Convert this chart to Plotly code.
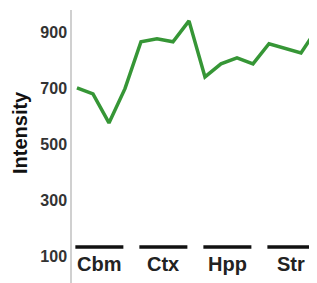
import plotly.graph_objects as go

groups = ["Cbm", "Ctx", "Hpp", "Str"]
samples_per_group = 4
intensity = [703, 681, 577, 700, 868, 879, 868, 943, 742, 789, 810, 789, 861, 846, 828, 914]
y_ticks = [100, 300, 500, 700, 900]

x_idx = list(range(len(intensity)))

# the page body has an 8px default margin, so the figure is sized to fit the window
W, H = 309, 275
ML, MR, MT, MB = 64, 0, 2, 0
PW, PH = W - ML - MR, H - MT - MB

fig = go.Figure()
fig.add_trace(go.Scatter(
    x=x_idx, y=intensity, mode="lines",
    line=dict(color="#369636", width=3.5),
    showlegend=False, hoverinfo="skip",
))

shapes = []
annotations = []
for g, name in enumerate(groups):
    x0 = g * samples_per_group - 0.1
    x1 = g * samples_per_group + samples_per_group - 1.1
    shapes.append(dict(type="line", xref="x", yref="y", x0=x0, x1=x1, y0=132, y1=132,
                       line=dict(color="#111111", width=3.5)))
    annotations.append(dict(x=(x0 + x1) / 2, y=72, xref="x", yref="y", text="<b>" + name + "</b>",
                            showarrow=False, font=dict(family="Liberation Sans, Arial", size=20, color="#222222"),
                            xanchor="center", yanchor="middle"))

# y-axis title (center at window x=20, y=133)
annotations.append(dict(x=(20 - 8 - ML) / PW, y=(PH - (133 - 8 - MT)) / PH, xref="paper", yref="paper",
                        text="<b>Intensity</b>", showarrow=False, textangle=-90,
                        font=dict(family="Liberation Sans, Arial", size=20, color="#111111"),
                        xanchor="center", yanchor="middle"))

fig.update_layout(
    width=W, height=H,
    margin=dict(l=ML, r=MR, t=MT, b=MB),
    plot_bgcolor="white", paper_bgcolor="white",
    shapes=shapes,
    annotations=annotations,
    xaxis=dict(range=[-0.31, 15.0], visible=False, showgrid=False, zeroline=False),
    yaxis=dict(range=[3, 982], tickvals=y_ticks, ticktext=["<b>%d</b>" % v for v in y_ticks],
               showgrid=False, zeroline=False, showline=True, linecolor="#d0d0d0", linewidth=1.5,
               ticks="", tickfont=dict(family="Liberation Sans, Arial", size=16, color="#333333")),
)

fig.write_html("out.html")
